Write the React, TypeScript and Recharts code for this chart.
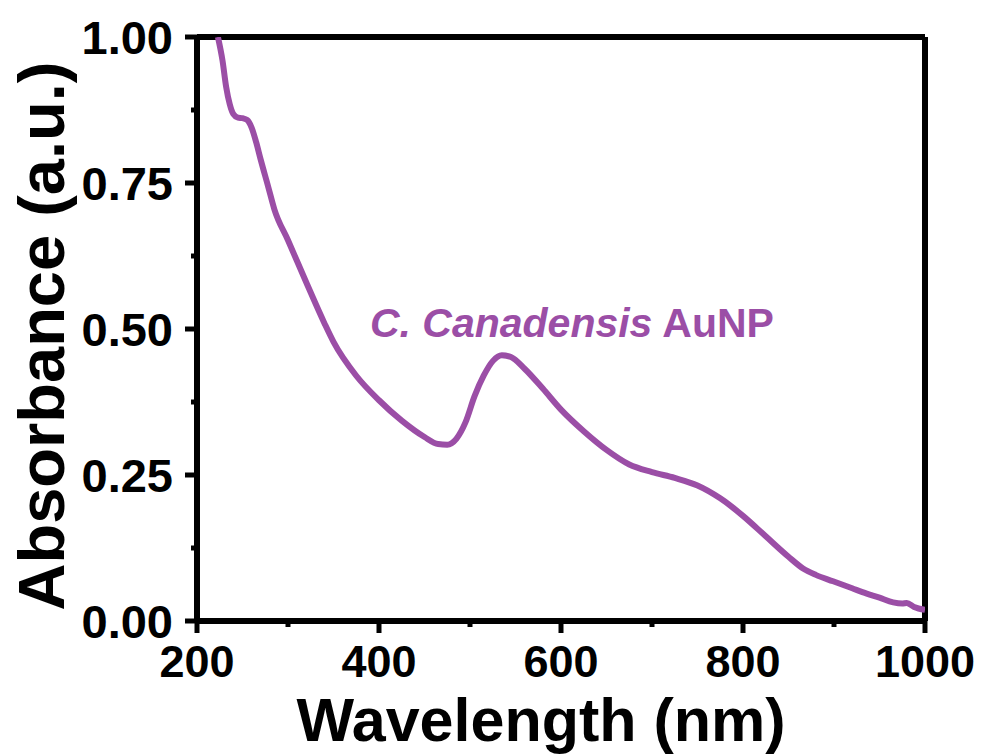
import React from "react";
import { LineChart, Line, XAxis, YAxis, ReferenceLine, ReferenceDot } from "recharts";

// wavelength (nm) and absorbance
const wavelength = [
  223, 228, 232, 236, 240, 245, 250, 255, 260, 265, 270, 278, 285, 300, 320, 340, 350, 375, 400, 425,
  450, 465, 475, 485, 495, 505, 515, 525, 535, 545, 560, 580, 600, 625, 650, 675, 700, 725, 750, 775,
  800, 825, 850, 866, 880, 899, 920, 936, 950, 965, 975, 980, 988, 1000,
];
const absorbance = [
  1.0, 0.96, 0.915, 0.885, 0.868, 0.862, 0.861, 0.858, 0.845, 0.82, 0.79, 0.745, 0.705, 0.652, 0.58, 0.51, 0.478, 0.42, 0.378, 0.343,
  0.315, 0.303, 0.302, 0.312, 0.34, 0.385, 0.42, 0.445, 0.455, 0.452, 0.432, 0.398, 0.362, 0.325, 0.293, 0.268, 0.255, 0.245, 0.232, 0.21,
  0.18, 0.145, 0.11, 0.09, 0.079, 0.068, 0.056, 0.047, 0.04, 0.032, 0.03, 0.031, 0.024, 0.019,
];

const xTicks = [200, 300, 400, 500, 600, 700, 800, 900, 1000];
const yTicks = [0, 0.125, 0.25, 0.375, 0.5, 0.625, 0.75, 0.875, 1];

const data = wavelength.map((nm, i) => ({ nm, abs: absorbance[i] }));

const PURPLE = "#9b4ea6";
const FONT = "'Liberation Sans', Arial, sans-serif";

const XTick = (props: any) => {
  const { x, y, payload } = props;
  const major = payload.value % 200 === 0;
  return (
    <g>
      <line x1={x} x2={x} y1={y} y2={y + (major ? 12 : 6)} stroke="#000" strokeWidth={5} />
      {major && (
        <text x={x} y={y + 56} textAnchor="middle" fontFamily={FONT} fontWeight="bold" fontSize={45} fill="#000">
          {payload.value}
        </text>
      )}
    </g>
  );
};

const YTick = (props: any) => {
  const { x, y, payload } = props;
  const v = payload.value;
  const major = Math.abs(v * 4 - Math.round(v * 4)) < 1e-6;
  return (
    <g>
      <line x1={x} x2={x - (major ? 12 : 6)} y1={y} y2={y} stroke="#000" strokeWidth={5} />
      {major && (
        <text x={x - 24} y={y + 17} textAnchor="end" fontFamily={FONT} fontWeight="bold" fontSize={47} fill="#000">
          {v.toFixed(2)}
        </text>
      )}
    </g>
  );
};

export default function App() {
  return (
    <div style={{ position: "absolute", left: 0, top: 0, background: "#fff" }}>
      <LineChart width={985} height={755} data={data} margin={{ top: 37, right: 60, left: 47, bottom: 14 }}>
        <XAxis
          dataKey="nm"
          type="number"
          domain={[200, 1000]}
          ticks={xTicks}
          interval={0}
          allowDataOverflow
          height={120}
          tickSize={0}
          tickMargin={0}
          tick={<XTick />}
          axisLine={{ stroke: "#000", strokeWidth: 6 }}
          label={{
            value: "Wavelength (nm)",
            content: () => (
              <text x={541} y={741} textAnchor="middle" fontFamily={FONT} fontWeight="bold" fontSize={61} fill="#000">
                Wavelength (nm)
              </text>
            ),
          }}
        />
        <YAxis
          type="number"
          domain={[0, 1]}
          ticks={yTicks}
          interval={0}
          allowDataOverflow
          width={150}
          tickSize={0}
          tickMargin={0}
          tick={<YTick />}
          axisLine={{ stroke: "#000", strokeWidth: 6 }}
          label={{
            value: "Absorbance (a.u.)",
            content: () => (
              <text
                x={64}
                y={336}
                transform="rotate(-90 64 336)"
                textAnchor="middle"
                fontFamily={FONT}
                fontWeight="bold"
                fontSize={65}
                fill="#000"
              >
                Absorbance (a.u.)
              </text>
            ),
          }}
        />
        <ReferenceLine y={1} stroke="#000" strokeWidth={6} />
        <ReferenceLine x={1000} stroke="#000" strokeWidth={6} />
        <Line
          dataKey="abs"
          type="monotone"
          stroke={PURPLE}
          strokeWidth={6}
          dot={false}
          activeDot={false}
          isAnimationActive={false}
        />
        <ReferenceDot
          x={612}
          y={0.486}
          r={1}
          fill="none"
          stroke="none"
          label={{
            value: "C. Canadensis AuNP",
            content: (p: any) => {
              const vb = p.viewBox || {};
              const cx = (vb.x ?? 0) + (vb.width ?? 0) / 2;
              const cy = (vb.y ?? 0) + (vb.height ?? 0) / 2;
              return (
                <text x={cx} y={cy} textAnchor="middle" fontFamily={FONT} fontWeight="bold" fontSize={41} fill={PURPLE}>
                  <tspan fontStyle="italic">C. Canadensis</tspan>
                  <tspan> AuNP</tspan>
                </text>
              );
            },
          }}
        />
      </LineChart>
    </div>
  );
}
